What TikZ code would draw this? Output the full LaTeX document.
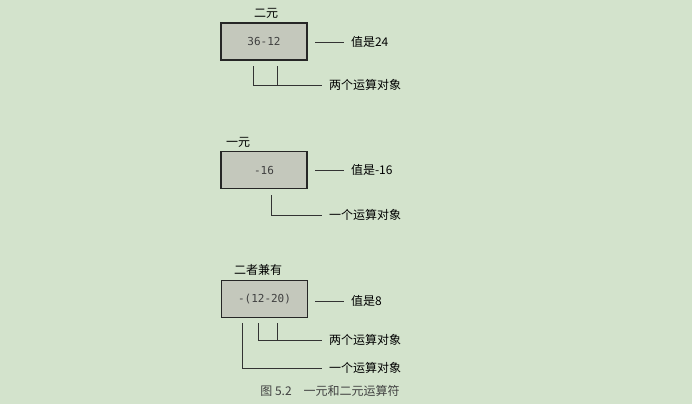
\documentclass[tikz,border=0pt]{standalone}
\usepackage{fontspec}
\newfontfamily\cjk{Noto Sans CJK SC}
\setmonofont{DejaVu Sans Mono}
\definecolor{bg}{HTML}{D3E3CC}
\definecolor{boxfill}{HTML}{C4C8BC}
\begin{document}
\begin{tikzpicture}[x=1pt,y=-1pt,
  opbox/.style={draw=black!85,line width=1.6pt,fill=boxfill,minimum width=86pt,minimum height=37pt,inner sep=0pt,font=\ttfamily\fontsize{11}{13}\selectfont,text=black!75},
  lbl/.style={font=\cjk\fontsize{12}{14}\selectfont,anchor=west,inner sep=1pt,outer xsep=6pt},
  ttl/.style={font=\cjk\fontsize{12}{14}\selectfont,inner sep=1pt},
  ln/.style={draw=black!80,line width=0.7pt}]
\useasboundingbox[fill=bg] (0,0) rectangle (692,404);
% box 1
\node[opbox] (b1) at (264,41.5) {36-12};
\node[ttl] (t1) at (266,13) {二元};
\node[lbl] (v1) at (344,42) {值是24};
\draw[ln] (315,42) -- (v1.west);
\coordinate (a1) at (253,66); \coordinate (a2) at (277,66);
\node[lbl] (o1) at (322,85) {两个运算对象};
\draw[ln] (a1) |- (o1.west); \draw[ln] (a2) -- (277,85);
% box 2
\node[opbox] (b2) at (264,170) {-16};
\node[ttl] (t2) at (238,142) {一元};
\node[lbl] (v2) at (344,170) {值是-16};
\draw[ln] (315,170) -- (v2.west);
\coordinate (c1) at (271,195);
\node[lbl] (o2) at (322,215) {一个运算对象};
\draw[ln] (c1) |- (o2.west);
% box 3
\node[opbox] (b3) at (264.5,299) {-(12-20)};
\node[ttl] (t3) at (258,270) {二者兼有};
\node[lbl] (v3) at (344,301) {值是8};
\draw[ln] (315,301) -- (v3.west);
\coordinate (d1) at (258,323); \coordinate (d2) at (277,323); \coordinate (d3) at (242,323);
\node[lbl] (o3) at (322,340) {两个运算对象};
\node[lbl] (o4) at (322,368) {一个运算对象};
\draw[ln] (d1) |- (o3.west); \draw[ln] (d2) -- (277,340);
\draw[ln] (d3) |- (o4.west);
\node[font=\cjk\fontsize{12}{14}\selectfont,text=black!75] (cap) at (330,391) {图 5.2\quad 一元和二元运算符};
\end{tikzpicture}
\end{document}
